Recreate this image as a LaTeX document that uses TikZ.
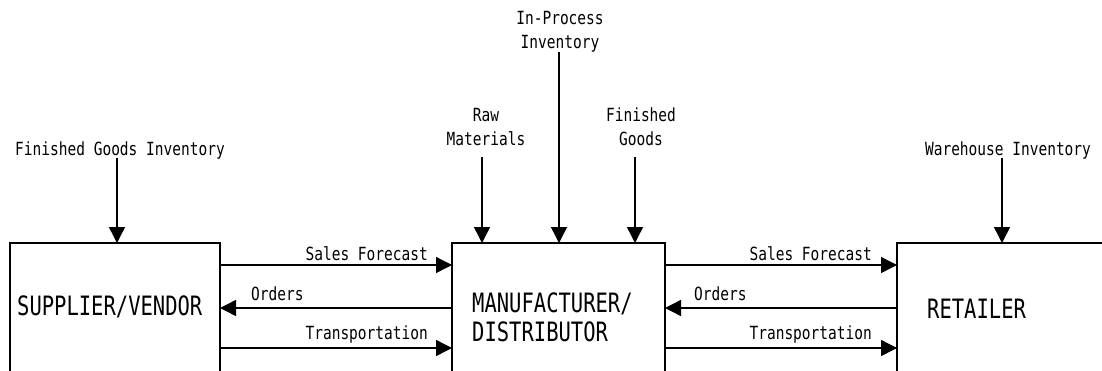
\documentclass[tikz,border=0pt]{standalone}
\usepackage{graphicx}
\usepackage{fontspec}
\setmonofont{DejaVu Sans Mono}
\usetikzlibrary{arrows.meta}

% tall, narrow lettering in the style of a CAD stroke font
\newcommand\tallsm[1]{\scalebox{1}[1.25]{#1}}
\newcommand\tallbg[1]{\scalebox{1}[1.3]{#1}}

\tikzset{
  unit/.style={draw=black, line width=1.4pt, inner sep=0pt, outer sep=0pt, anchor=north west},
  lbl/.style={font=\ttfamily\fontsize{14.5}{24}\selectfont, inner sep=0pt, text depth=0pt, align=center},
  big/.style={font=\ttfamily\fontsize{20.5}{29}\selectfont, inner sep=0pt, text depth=0pt, align=left},
  flow/.style={draw=black, line width=1.4pt, -{Triangle[length=16pt,width=16pt]}},
}

\begin{document}
\begin{tikzpicture}[x=1pt, y=-1pt]
  \useasboundingbox (0,0) rectangle (1102,370);
  \clip (0,0) rectangle (1102,370);
  \fill[white] (0,0) rectangle (1102,370);

  % the three parties of the chain (boxes run past the lower edge)
  \node[unit, minimum width=210pt, minimum height=135pt] (sup) at (10,243) {};
  \node[unit, minimum width=213pt, minimum height=135pt] (man) at (452,243) {};
  \node[unit, minimum width=230pt, minimum height=135pt] (ret) at (897,243) {};

  \node[big, anchor=base west] (supT) at (17,315) {\tallbg{SUPPLIER/VENDOR}};
  \node[big, anchor=south west] (manT) at (472,342) {\tallbg{MANUFACTURER/}\\\tallbg{DISTRIBUTOR}};
  \node[big, anchor=base west] (retT) at (927,318) {\tallbg{RETAILER}};

  % inventory held at each stage
  \node[lbl, anchor=base] (fgi) at (120,155) {\tallsm{Finished Goods Inventory}};
  \node[lbl, anchor=south] (raw) at (486,146) {\tallsm{Raw}\\\tallsm{Materials}};
  \node[lbl, anchor=south] (wip) at (560,49) {\tallsm{In-Process}\\\tallsm{Inventory}};
  \node[lbl, anchor=south] (fg) at (641,146) {\tallsm{Finished}\\\tallsm{Goods}};
  \node[lbl, anchor=base] (whi) at (1008,155) {\tallsm{Warehouse Inventory}};

  \coordinate (fgiA) at (117,158);
  \coordinate (rawA) at (482,157);
  \coordinate (wipA) at (559,52);
  \coordinate (fgA)  at (635,157);
  \coordinate (whiA) at (1002,158);

  \draw[flow] (fgiA) -- (fgiA |- sup.north);
  \draw[flow] (rawA) -- (rawA |- man.north);
  \draw[flow] (wipA) -- (wipA |- man.north);
  \draw[flow] (fgA)  -- (fgA |- man.north);
  \draw[flow] (whiA) -- (whiA |- ret.north);

  % levels of the three flows between neighbouring stages
  \coordinate (sf) at (0,265);
  \coordinate (or) at (0,308);
  \coordinate (tr) at (0,348);

  \draw[flow] (sup.east |- sf) -- (man.west |- sf);
  \draw[flow] (man.west |- or) -- (sup.east |- or);
  \draw[flow] (sup.east |- tr) -- (man.west |- tr);

  \draw[flow] (man.east |- sf) -- (ret.west |- sf);
  \draw[flow] (ret.west |- or) -- (man.east |- or);
  \draw[flow] (man.east |- tr) -- (ret.west |- tr);

  \node[lbl, anchor=base east] (sf1) at (428,260) {\tallsm{Sales Forecast}};
  \node[lbl, anchor=base west] (or1) at (251,300) {\tallsm{Orders}};
  \node[lbl, anchor=base east] (tr1) at (428,339) {\tallsm{Transportation}};

  \node[lbl, anchor=base east] (sf2) at (872,260) {\tallsm{Sales Forecast}};
  \node[lbl, anchor=base west] (or2) at (694,300) {\tallsm{Orders}};
  \node[lbl, anchor=base east] (tr2) at (872,339) {\tallsm{Transportation}};
\end{tikzpicture}
\end{document}
